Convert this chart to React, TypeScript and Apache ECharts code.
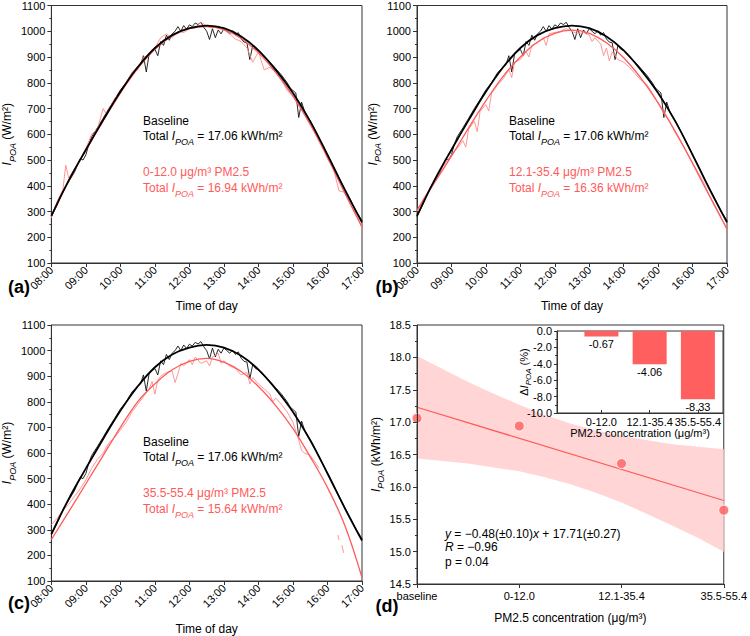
import React, { useEffect, useRef } from 'react';
import * as echarts from 'echarts';

// ---------- data ----------
const fitTimes = ['08:00','08:30','09:00','09:30','10:00','10:30','11:00','11:30','12:00','12:30','13:00','13:30','14:00','14:30','15:00','15:30','16:00','16:30','17:00'];
const baselineFit = [283,420,540,655,765,860,935,985,1012,1022,1012,980,926,850,760,650,520,385,258];
const fitA = [282,418,538,652,760,855,930,982,1010,1018,1006,972,916,840,748,638,510,372,240];
const fitB = [305,410,515,625,730,825,900,958,992,1004,992,955,897,818,722,610,487,358,232];
const fitC = [262,370,480,590,700,800,870,925,958,970,955,918,860,785,695,585,465,318,113];

const baselineNoisy: [string, number | null][] = [
['08:00',280],['08:10',325],['08:20',378],['08:30',415],['08:40',452],['08:50',505],['08:55',500],['09:00',520],['09:05',560],['09:10',590],['09:20',625],['09:30',662],['09:40',700],['09:50',735],['10:00',772],['10:10',800],['10:20',838],['10:30',862],['10:35',870],['10:40',905],['10:45',842],['10:50',912],['11:00',930],['11:05',905],['11:10',960],['11:15',945],['11:20',985],['11:25',965],['11:30',990],['11:35',1000],['11:40',1018],['11:45',1000],['11:50',1022],['11:55',1008],['12:00',1025],['12:05',1018],['12:10',1032],['12:15',1026],['12:20',1035],['12:25',1015],['12:30',1000],['12:35',968],['12:40',1010],['12:45',975],['12:50',1005],['12:55',990],['13:00',1010],['13:05',1000],['13:10',990],['13:15',1002],['13:20',985],['13:25',995],['13:30',970],['13:35',958],['13:40',955],['13:45',890],['13:50',945],['13:55',930],['14:00',925],['14:10',900],['14:20',880],['14:30',855],['14:40',830],['14:50',800],['14:55',780],['15:00',770],['15:05',760],['15:10',665],['15:15',725],['15:20',690],['15:30',652],['15:40',610],['15:50',565],['16:00',522],['16:10',478],['16:20',432],['16:30',388],['16:40',345],['16:50',300],['17:00',265]
];
const noisyA: [string, number | null][] = [
['08:00',275],['08:10',340],['08:20',385],['08:25',480],['08:30',430],['08:40',465],['08:50',500],['09:00',545],['09:10',600],['09:20',620],['09:30',700],['09:35',680],['09:40',695],['09:50',740],['10:00',760],['10:10',800],['10:20',840],['10:30',850],['10:40',900],['10:50',905],['11:00',935],['11:10',975],['11:20',990],['11:30',975],['11:40',1000],['11:50',995],['12:00',1010],['12:10',1012],['12:20',1035],['12:30',1020],['12:40',1012],['12:50',1020],['13:00',1005],['13:10',990],['13:20',970],['13:30',960],['13:40',935],['13:50',880],['14:00',920],['14:10',850],['14:20',860],['14:30',840],['14:40',810],['14:50',770],['15:00',748],['15:10',715],['15:20',680],['15:30',640],['15:40',600],['15:50',560],['16:00',505],['16:10',470],['16:20',380],['16:30',375],['16:40',330],['16:50',290],['17:00',235]
];
const noisyB: [string, number | null][] = [
['08:00',300],['08:10',345],['08:20',380],['08:30',420],['08:40',455],['08:50',490],['09:00',520],['09:10',545],['09:20',575],['09:25',550],['09:30',620],['09:40',650],['09:45',610],['09:50',690],['10:00',715],['10:05',690],['10:10',760],['10:20',790],['10:30',815],['10:40',850],['10:45',820],['10:50',880],['11:00',890],['11:10',920],['11:15',900],['11:20',945],['11:30',955],['11:40',975],['11:45',945],['11:50',990],['12:00',995],['12:10',1000],['12:20',1010],['12:30',1000],['12:40',990],['12:50',995],['13:00',985],['13:05',960],['13:10',975],['13:20',950],['13:25',905],['13:30',935],['13:35',885],['13:40',920],['13:50',890],['14:00',880],['14:10',860],['14:20',835],['14:30',810],['14:40',795],['14:50',760],['15:00',720],['15:10',680],['15:20',650],['15:30',605],['15:40',570],['15:50',530],['16:00',490],['16:10',450],['16:20',410],['16:30',360],['16:40',320],['16:50',275],['17:00',230]
];
const noisyC: [string, number | null][] = [
['08:00',320],['08:10',345],['08:20',375],['08:30',400],['08:40',430],['08:50',460],['09:00',495],['09:10',540],['09:20',575],['09:30',600],['09:40',640],['09:50',660],['10:00',690],['10:10',720],['10:20',760],['10:30',790],['10:40',820],['10:50',850],['10:55',880],['11:00',830],['11:05',885],['11:10',900],['11:20',915],['11:30',920],['11:35',875],['11:40',910],['11:45',950],['11:50',940],['12:00',965],['12:05',945],['12:10',975],['12:20',950],['12:30',960],['12:35',940],['12:40',975],['12:50',990],['12:55',950],['13:00',960],['13:10',940],['13:20',930],['13:30',905],['13:40',915],['13:45',870],['13:50',895],['14:00',870],['14:10',850],['14:20',830],['14:25',800],['14:30',815],['14:40',790],['14:50',760],['15:00',720],['15:10',650],['15:15',610],['15:20',600],['15:30',590],['15:40',560],['15:45',540],['15:50',null],['16:18',280],['16:20',260],['16:22',null],['16:25',240],['16:28',210],['16:30',null]
];

const pmCategories = ['baseline', '0-12.0', '12.1-35.4', '35.5-55.4'];
const totalIPOA = [17.06, 16.94, 16.36, 15.64];
const regressionEnds = [17.23, 15.79];
const bandX = [1, 1.25, 1.5, 1.75, 2, 2.25, 2.5, 2.75, 3, 3.25, 3.5, 3.75, 4];
const bandUpper = [18.02, 17.82, 17.62, 17.44, 17.27, 17.11, 16.98, 16.87, 16.79, 16.72, 16.66, 16.62, 16.58];
const bandLower = [16.44, 16.40, 16.36, 16.30, 16.24, 16.15, 16.04, 15.91, 15.76, 15.58, 15.40, 15.21, 15.00];

const insetCategories = ['0-12.0', '12.1-35.4', '35.5-55.4'];
const deltaIPOA = [-0.67, -4.06, -8.33];

// ---------- style ----------
const FONT = "'Liberation Sans', Arial, sans-serif";
const RED = '#ff5a5a';
const RED_LIGHT = '#ff8a8a';
const AXIS = '#333';

const toHour = (t: string) => { const [h, m] = t.split(':').map(Number); return h + m / 60; };
const pairs = (list: [string, number | null][]) => list.map(([t, v]) => [toHour(t), v === null ? '-' : v]);
const fitPairs = (vals: number[]) => fitTimes.map((t, i) => [toHour(t), vals[i]]);

const richEC = (color: string, size: number) => ({
  n: { color, fontSize: size, fontFamily: FONT, lineHeight: size + 2, verticalAlign: 'top' },
  i: { color, fontSize: size, fontFamily: FONT, fontStyle: 'italic', lineHeight: size + 2, verticalAlign: 'top' },
  s: { color, fontSize: Math.round(size * 0.72), fontFamily: FONT, fontStyle: 'italic', lineHeight: Math.round(size * 0.75), verticalAlign: 'top', padding: [Math.round(size * 0.55), 0, 0, 0] },
});
const richZR = (color: string, size: number) => ({
  n: { fill: color, fontSize: size, fontFamily: FONT, lineHeight: size + 2, verticalAlign: 'top' },
  i: { fill: color, fontSize: size, fontFamily: FONT, fontStyle: 'italic', lineHeight: size + 2, verticalAlign: 'top' },
  s: { fill: color, fontSize: Math.round(size * 0.72), fontFamily: FONT, fontStyle: 'italic', lineHeight: Math.round(size * 0.75), verticalAlign: 'top', padding: [Math.round(size * 0.55), 0, 0, 0] },
});

const grids = [
  { left: 51, top: 5, width: 311, height: 258 },
  { left: 417, top: 5, width: 310, height: 258 },
  { left: 51, top: 325, width: 311, height: 258 },
  { left: 417, top: 325, width: 310, height: 259 },
  { left: 557, top: 331, width: 166, height: 82 },
];

function timeX(gridIndex: number, nameGap: number) {
  return {
    type: 'value', gridIndex, min: 8, max: 17, interval: 1,
    name: 'Time of day', nameLocation: 'middle', nameGap,
    nameTextStyle: { fontFamily: FONT, fontSize: 12, color: '#000' },
    axisLine: { show: true, onZero: false, lineStyle: { color: AXIS } },
    axisTick: { show: true, length: 4, lineStyle: { color: AXIS } },
    axisLabel: {
      rotate: 45, fontFamily: FONT, fontSize: 11, color: '#000', margin: 5,
      showMinLabel: true, showMaxLabel: true,
      formatter: (v: number) => `${String(Math.round(v)).padStart(2, '0')}:00`,
    },
    splitLine: { show: false },
  };
}
function irrY(gridIndex: number, nameGap: number) {
  return {
    type: 'value', gridIndex, min: 100, max: 1100, interval: 100,
    name: '{i|I}{s|POA}{n| (W/m²)}', nameLocation: 'middle', nameGap,
    nameTextStyle: { rich: richEC('#000', 12) },
    axisLine: { show: true, onZero: false, lineStyle: { color: AXIS } },
    axisTick: { show: true, length: 4, lineStyle: { color: AXIS } },
    minorTick: { show: true, splitNumber: 2, length: 2, lineStyle: { color: AXIS } },
    axisLabel: { fontFamily: FONT, fontSize: 11, color: '#000', margin: 6, formatter: (v: number) => String(v) },
    splitLine: { show: false },
  };
}

function panelSeries(idx: number, redNoisy: [string, number | null][], redFit: number[]) {
  const common = { xAxisIndex: idx, yAxisIndex: idx, type: 'line', showSymbol: false, symbol: 'none', silent: true };
  return [
    { ...common, data: pairs(baselineNoisy), lineStyle: { color: '#111', width: 0.9 }, z: 2 },
    { ...common, data: pairs(redNoisy), connectNulls: false, lineStyle: { color: RED_LIGHT, width: 0.9 }, z: 3 },
    { ...common, data: fitPairs(redFit), smooth: 0.4, lineStyle: { color: RED, width: 1.3 }, z: 4 },
    { ...common, data: fitPairs(baselineFit), smooth: 0.4, lineStyle: { color: '#000', width: 1.8 }, z: 5 },
  ];
}

function annot(x: number, top: number, redLabel: string, redTotal: string, base: string) {
  const t = (y: number, text: string, color: string) => ({
    type: 'text', x, y, z: 100,
    style: { text, rich: richZR(color, 12), fill: color, fontFamily: FONT, fontSize: 12, verticalAlign: 'top', align: 'left' },
  });
  return [
    t(top, '{n|Baseline}', '#000'),
    t(top + 15, `{n|Total }{i|I}{s|POA}{n| = ${base} kWh/m²}`, '#000'),
    t(top + 51, `{n|${redLabel}}`, RED),
    t(top + 67, `{n|Total }{i|I}{s|POA}{n| = ${redTotal} kWh/m²}`, RED),
  ];
}

function panelLabel(x: number, y: number, text: string) {
  return { type: 'text', x, y, z: 100, style: { text, fill: '#000', fontFamily: FONT, fontSize: 18, fontWeight: 'bold', align: 'center', verticalAlign: 'middle' } };
}

export default function App() {
  const ref = useRef<HTMLDivElement>(null);
  useEffect(() => {
    if (!ref.current) return;
    const chart = echarts.init(ref.current, undefined, { renderer: 'svg' });

    const dX = {
      type: 'value', gridIndex: 3, min: 1, max: 4, interval: 1,
      name: 'PM2.5 concentration (μg/m³)', nameLocation: 'middle', nameGap: 28,
      nameTextStyle: { fontFamily: FONT, fontSize: 12, color: '#000' },
      axisLine: { show: true, onZero: false, lineStyle: { color: AXIS } },
      axisTick: { show: true, length: 4, lineStyle: { color: AXIS } },
      axisLabel: { fontFamily: FONT, fontSize: 11, color: '#000', margin: 6, showMinLabel: true, showMaxLabel: true, formatter: (v: number) => pmCategories[Math.round(v) - 1] ?? '' },
      splitLine: { show: false },
      z: 5,
    };
    const dY = {
      type: 'value', gridIndex: 3, min: 14.5, max: 18.5, interval: 0.5,
      name: '{i|I}{s|POA}{n| (kWh/m²)}', nameLocation: 'middle', nameGap: 30,
      nameTextStyle: { rich: richEC('#000', 12) },
      axisLine: { show: true, onZero: false, lineStyle: { color: AXIS } },
      axisTick: { show: true, length: 4, lineStyle: { color: AXIS } },
      minorTick: { show: true, splitNumber: 2, length: 2, lineStyle: { color: AXIS } },
      axisLabel: { fontFamily: FONT, fontSize: 11, color: '#000', margin: 6, formatter: (v: number) => v.toFixed(1) },
      splitLine: { show: false },
      z: 5,
    };
    const insetX = {
      type: 'value', gridIndex: 4, min: 0.08, max: 3.52, z: 10,
      name: 'PM2.5 concentration (μg/m³)', nameLocation: 'middle', nameGap: 14,
      nameTextStyle: { fontFamily: FONT, fontSize: 11, color: '#000' },
      axisLine: { show: true, onZero: false, lineStyle: { color: AXIS } },
      axisTick: { show: true, length: 3, inside: true, customValues: [1, 2, 3], lineStyle: { color: AXIS } },
      axisLabel: { fontFamily: FONT, fontSize: 11, color: '#000', margin: 3, customValues: [1, 2, 3], formatter: (v: number) => insetCategories[Math.round(v) - 1] ?? '' },
      splitLine: { show: false },
    };
    const insetY = {
      type: 'value', gridIndex: 4, min: -10, max: 0, interval: 2, z: 10,
      name: '{n|Δ}{i|I}{s|POA}{n| (%)}', nameLocation: 'middle', nameGap: 26, nameMoveOverlap: false,
      nameTextStyle: { rich: richEC('#000', 11) },
      axisLine: { show: true, onZero: false, lineStyle: { color: AXIS } },
      axisTick: { show: true, length: 3, lineStyle: { color: AXIS } },
      minorTick: { show: true, splitNumber: 2, length: 2, lineStyle: { color: AXIS } },
      axisLabel: { fontFamily: FONT, fontSize: 11, color: '#000', margin: 5, formatter: (v: number) => v.toFixed(1) },
      splitLine: { show: false },
    };

    const dCommon = { xAxisIndex: 3, yAxisIndex: 3, silent: true };
    const option = {
      animation: false,
      backgroundColor: '#fff',
      grid: grids.map((g) => ({ ...g, show: true, borderColor: AXIS, borderWidth: 1, backgroundColor: 'transparent', containLabel: false })),
      xAxis: [timeX(0, 37), timeX(1, 37), timeX(2, 42), dX, insetX],
      yAxis: [irrY(0, 36), irrY(1, 29), irrY(2, 36), dY, insetY],
      series: [
        ...panelSeries(0, noisyA, fitA),
        ...panelSeries(1, noisyB, fitB),
        ...panelSeries(2, noisyC, fitC),
        {
          ...dCommon, type: 'custom', z: 1,
          data: [[bandX[0], bandUpper[0]]],
          encode: { x: 0, y: 1 },
          renderItem: (_params: any, api: any) => {
            const up = bandX.map((x, i) => api.coord([x, bandUpper[i]]));
            const lo = bandX.map((x, i) => api.coord([x, bandLower[i]])).reverse();
            return { type: 'polygon', shape: { points: [...up, ...lo] }, style: { fill: '#ffd5d5' } };
          },
        },
        { ...dCommon, type: 'line', symbol: 'none', data: [[1, regressionEnds[0]], [4, regressionEnds[1]]], lineStyle: { color: RED, width: 1.2 }, z: 3 },
        { ...dCommon, type: 'scatter', clip: false, symbolSize: 10, data: totalIPOA.map((v, i) => [i + 1, v]), itemStyle: { color: '#ff5f5f', borderColor: '#fff', borderWidth: 1 }, z: 4 },
        {
          xAxisIndex: 4, yAxisIndex: 4, type: 'bar', silent: true, barWidth: 34,
          data: deltaIPOA.map((v, i) => [i + 1, v]),
          itemStyle: { color: '#ff5f5f' },
          label: { show: true, position: 'bottom', distance: 2, fontFamily: FONT, fontSize: 11, color: '#000', formatter: (p: any) => p.value[1].toFixed(2) },
          z: 5,
        },
      ],
      graphic: [
        ...annot(143, 115, '0-12.0 μg/m³ PM2.5', '16.94', '17.06'),
        ...annot(509, 115, '12.1-35.4 μg/m³ PM2.5', '16.36', '17.06'),
        ...annot(143, 436, '35.5-55.4 μg/m³ PM2.5', '15.64', '17.06'),
        { type: 'text', x: 445, y: 528, z: 100, style: { text: '{i|y}{n| = −0.48(±0.10)}{i|x}{n| + 17.71(±0.27)}', rich: richZR('#000', 12), fill: '#000', verticalAlign: 'top' } },
        { type: 'text', x: 445, y: 541, z: 100, style: { text: '{i|R}{n| = −0.96}', rich: richZR('#000', 12), fill: '#000', verticalAlign: 'top' } },
        { type: 'text', x: 445, y: 556, z: 100, style: { text: '{n|p = 0.04}', rich: richZR('#000', 12), fill: '#000', verticalAlign: 'top' } },
        panelLabel(19, 287, '(a)'),
        panelLabel(387, 287, '(b)'),
        panelLabel(19, 603, '(c)'),
        panelLabel(387, 606, '(d)'),
      ],
    };
    chart.setOption(option as any);
    return () => chart.dispose();
  }, []);
  return <div ref={ref} style={{ position: 'absolute', left: 0, top: 0, width: 750, height: 636 }} />;
}
